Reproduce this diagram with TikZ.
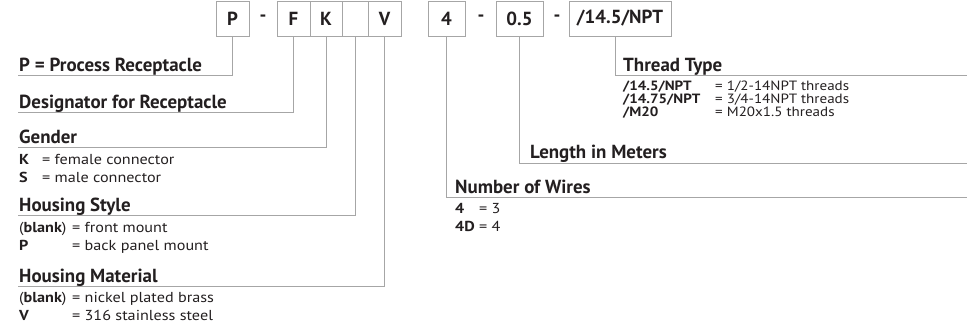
\documentclass[tikz,border=0pt]{standalone}
\usepackage{fontspec}
\usepackage{array}
\setmainfont{PT Sans}
\newfontfamily\itemfont{PT Sans}[FakeStretch=1.12]
\usetikzlibrary{positioning}
\definecolor{gray400}{HTML}{A6A6A6}
\definecolor{ink}{HTML}{231F20}
\tikzstyle{field}=[draw=gray400, line width=0.8bp, minimum height=35bp, inner sep=0pt, text=ink, font=\bfseries\fontsize{19}{20}\selectfont]
\tikzstyle{hyph}=[inner sep=0pt, text=ink, font=\bfseries\fontsize{19}{20}\selectfont]
\tikzstyle{heading}=[anchor=base west, inner sep=0pt, text=ink, font=\bfseries\fontsize{19}{20}\selectfont]
\tikzstyle{items}=[anchor=base west, inner sep=0pt, text=ink, font=\itemfont\fontsize{14.5}{19}\selectfont]
\tikzstyle{wire}=[draw=gray400, line width=0.8bp]

\begin{document}
\begin{tikzpicture}[x=1bp, y=-1bp]
			\useasboundingbox (0,0) rectangle (967,326);
			% part number fields
			\node[field, minimum width=33bp] (bP) at (232.5,18.5) {P};
			\node[hyph] (d1) at (263,18.5) {-};
			\node[field, minimum width=33bp] (bF) at (293.5,18.5) {F};
			\node[field, minimum width=32bp] (bK) at (326,18.5) {K};
			\node[field, minimum width=26bp] (bS) at (355,18.5) {};
			\node[field, minimum width=33bp] (bV) at (384.5,18.5) {V};
			\node[field, minimum width=37bp] (bW) at (446.5,18.5) {4};
			\node[hyph] (d2) at (481,18.5) {-};
			\node[field, minimum width=47bp] (bL) at (519.5,18.5) {0.5};
			\node[hyph] (d3) at (557,18.5) {-};
			\node[field, minimum width=102bp] (bT) at (620,18.5) {/14.5/NPT};
			% left side
			\coordinate (uP) at (18,75);
			\coordinate (uF) at (18,112);
			\coordinate (uK) at (18,147);
			\coordinate (uS) at (18,215);
			\coordinate (uV) at (18,286);
			\node[heading] (hP) at (19,71) {P = Process Receptacle};
			\node[heading] (hF) at (19,108) {Designator for Receptacle};
			\node[heading] (hK) at (19,143) {Gender};
			\node[items] (iK) at (19,164) {\begin{tabular}[t]{@{}>{\bfseries}p{23bp}@{}l@{}}
				K & = female connector\\
				S & = male connector
			\end{tabular}};
			\node[heading] (hS) at (19,211) {Housing Style};
			\node[items] (iS) at (19,232) {\begin{tabular}[t]{@{}>{\bfseries}p{53bp}@{}l@{}}
				\textmd{(}blank\textmd{)} & = front mount\\
				P & = back panel mount
			\end{tabular}};
			\node[heading] (hV) at (19,282) {Housing Material};
			\node[items] (iV) at (19,302) {\begin{tabular}[t]{@{}>{\bfseries}p{53bp}@{}l@{}}
				\textmd{(}blank\textmd{)} & = nickel plated brass\\
				V & = 316 stainless steel
			\end{tabular}};
			% right side
			\coordinate (uT) at (967,75);
			\coordinate (uL) at (967,163);
			\coordinate (uW) at (967,197);
			\node[heading] (hT) at (623,71) {Thread Type};
			\node[items, font=\itemfont\fontsize{13.5}{12}\selectfont] (iT) at (623,90) {\begin{tabular}[t]{@{}>{\bfseries}p{92bp}@{}l@{}}
				/14.5/NPT & = 1/2-14NPT threads\\
				/14.75/NPT & = 3/4-14NPT threads\\
				/M20 & = M20x1.5 threads
			\end{tabular}};
			\node[heading] (hL) at (530,158) {Length in Meters};
			\node[heading] (hW) at (455,193) {Number of Wires};
			\node[items] (iW) at (455,213) {\begin{tabular}[t]{@{}>{\bfseries}p{24bp}@{}l@{}}
				4 & = 3\\
				4D & = 4
			\end{tabular}};
			% connectors
			\path[wire]
				(bP.south) |- (uP)
				(bF.south) |- (uF)
				(bK.south) |- (uK)
				(bS.south) |- (uS)
				(bV.south) |- (uV)
				([xshift=-5bp]bT.south) |- (uT)
				(bL.south) |- (uL)
				(bW.south) |- (uW);
		\end{tikzpicture}
\end{document}
